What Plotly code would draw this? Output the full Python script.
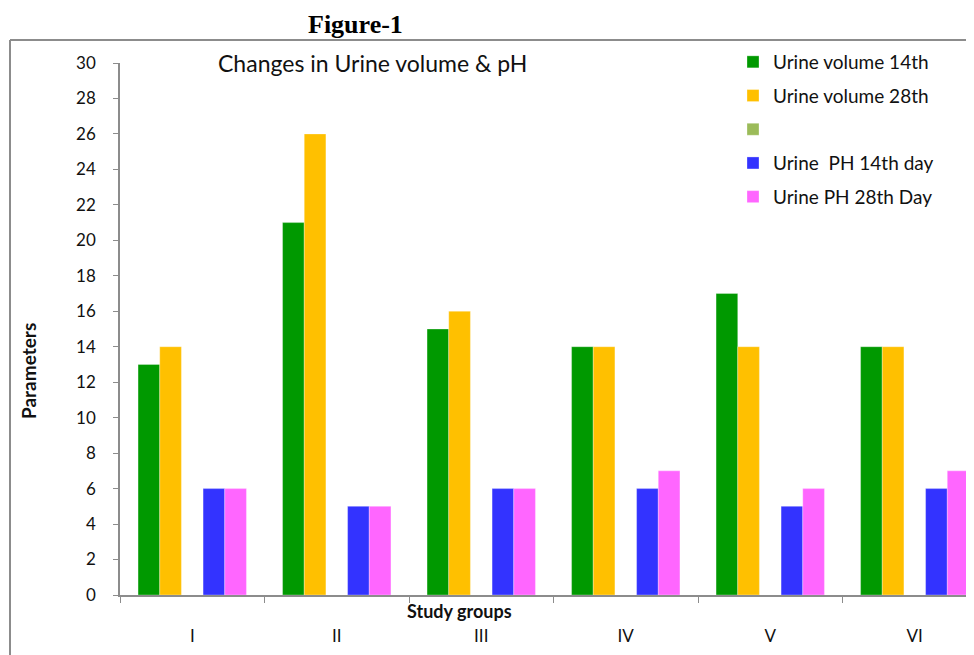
import plotly.graph_objects as go

groups = ["I", "II", "III", "IV", "V", "VI"]
vol14 = [13, 21, 15, 14, 17, 14]
vol28 = [14, 26, 16, 14, 14, 14]
blank = [None, None, None, None, None, None]
ph14 = [6, 5, 6, 6, 5, 6]
ph28 = [6, 5, 6, 7, 6, 7]

series = [
    ("Urine volume 14th", vol14, "#009900", "g1"),
    ("Urine volume 28th", vol28, "#FFC000", "g2"),
    (" ", blank, "#9BBB59", "g3"),
    ("Urine  PH 14th day", ph14, "#3333FF", "g4"),
    ("Urine PH 28th Day", ph28, "#FF66FF", "g5"),
]

FONT = "Lato"
TXT = "#111111"
fig = go.Figure()
for name, vals, col, grp in series:
    fig.add_trace(go.Bar(
        x=groups, y=vals, name=name, legendgroup=grp,
        marker=dict(color=col, line=dict(width=0.5, color="rgba(255,255,255,0.6)")),
    ))

# page has an 8px body margin; work in screen coords and convert
O = 8
W, H = 974, 655
L = 120 - O
T = 63 - O
B = H - (595 - O)
R = O
pw = W - L - R
ph = H - T - B

def px(x):
    return (x - O - L) / pw

def py(y):
    return (H - B - (y - O)) / ph

fig.update_layout(
    width=W, height=H,
    margin=dict(l=L, r=R, t=T, b=B),
    paper_bgcolor="white", plot_bgcolor="white",
    barmode="group", bargap=0.25, bargroupgap=0,
    font=dict(family=FONT, color=TXT, size=17),
    showlegend=True,
    legend=dict(x=px(733), y=py(43), xanchor="left", yanchor="top",
                font=dict(size=19, family=FONT, color=TXT),
                tracegroupgap=6, bgcolor="rgba(0,0,0,0)"),
    xaxis=dict(range=[-0.5, 5.41], showline=True, linecolor="#8c8c8c", linewidth=1.5,
               ticks="outside", tickson="boundaries", ticklen=6, tickcolor="#8c8c8c",
               tickfont=dict(size=17, family=FONT, color=TXT), showgrid=False, zeroline=False,
               ticklabelstandoff=25, fixedrange=True),
    yaxis=dict(range=[0, 30], dtick=2, showline=True, linecolor="#8c8c8c", linewidth=1.5,
               ticks="outside", ticklen=5, tickcolor="#8c8c8c", showgrid=False,
               zeroline=False, tickfont=dict(size=17, family=FONT, color=TXT),
               ticklabelstandoff=14),
    shapes=[
        dict(type="line", xref="paper", yref="paper", x0=px(10), x1=px(10),
             y0=py(40), y1=py(700), line=dict(color="#8c8c8c", width=2)),
        dict(type="line", xref="paper", yref="paper", x0=px(10), x1=px(1000),
             y0=py(40), y1=py(40), line=dict(color="#8c8c8c", width=2)),
    ],
    annotations=[
        dict(text="<b>Figure-1</b>", xref="paper", yref="paper", x=px(355), y=py(24),
             showarrow=False, font=dict(family="Liberation Serif", size=26, color="black"),
             xanchor="center", yanchor="middle"),
        dict(text="Changes in Urine volume &amp; pH", xref="paper", yref="paper",
             x=px(372), y=py(63), showarrow=False, xanchor="center", yanchor="middle",
             font=dict(family=FONT, size=23, color=TXT)),
        dict(text="<b>Parameters</b>", xref="paper", yref="paper", x=px(28), y=py(371),
             showarrow=False, textangle=-90, xanchor="center", yanchor="middle",
             font=dict(family=FONT, size=19, color=TXT)),
        dict(text="<b>Study groups</b>", xref="paper", yref="paper", x=px(459), y=py(611),
             showarrow=False, xanchor="center", yanchor="middle",
             font=dict(family=FONT, size=18, color=TXT)),
    ],
)

fig.write_html("out.html")
